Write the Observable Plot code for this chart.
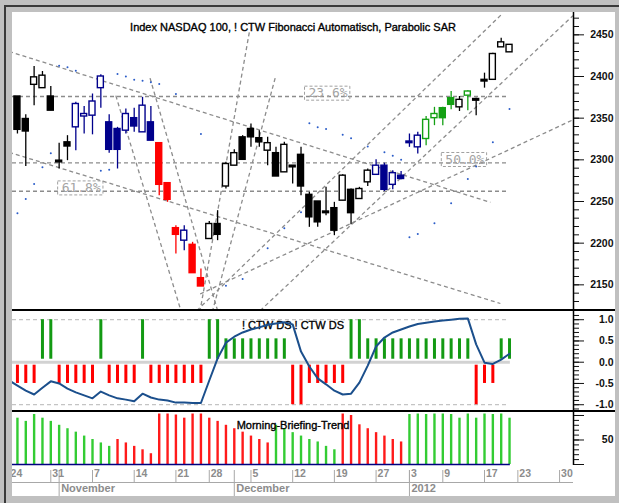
<!DOCTYPE html>
<html><head><meta charset="utf-8">
<script src="https://cdn.jsdelivr.net/npm/d3@7"></script>
<script src="https://cdn.jsdelivr.net/npm/@observablehq/plot@0.6"></script>
<style>
body{margin:0;background:#c0c0c0}
#wrap{position:relative;width:619px;height:503px;background:#c0c0c0;overflow:hidden;font-family:"Liberation Sans",Arial,sans-serif}
.abs{position:absolute}
#wrap svg{display:block;overflow:hidden}
</style></head><body>
<div id="wrap">
 <div class="abs" style="left:4px;top:5px;width:615px;height:498px;border-top:2px solid #3a3a3a;border-left:2px solid #3a3a3a;box-sizing:border-box"></div>
 <div class="abs" style="left:12px;top:12px;width:603px;height:484px;background:#fff"></div>
 <div id="p1" class="abs" style="left:12px;top:12px"></div>
 <div id="p2" class="abs" style="left:12px;top:311px"></div>
 <div id="p3" class="abs" style="left:12px;top:412px"></div>
 <div class="abs" style="left:12px;top:309px;width:603px;height:2px;background:#000"></div>
 <div class="abs" style="left:12px;top:410px;width:603px;height:2px;background:#000"></div>
 <div class="abs" style="left:12px;top:482px;width:561px;height:1px;background:#a8a8a8"></div>
</div>
<script>
// ---------- data ----------
const title1 = "Index NASDAQ 100, ! CTW Fibonacci Automatisch, Parabolic SAR";
const title2 = "! CTW DS ! CTW DS";
const title3 = "Morning-Briefing-Trend";

// trading-day index 1..60 (Oct 25 2011 .. Jan 20 2012)
const openP  = [2376,2349,2390,2386,2376,2299,2321,2339,2352,2353,2386,2345,2337,2335,2350,2333,2345,2320,2272,2218,2203,2198,2158,2205,2223,2268,2293,2327,2337,2326,2311,2308,2285,2293,2306,2258,2250,2238,2242,2251,2264,2253,2273,2282,2293,2270,2281,2322,2315,2325,2350,2362,2374,2363,2377,2373,2396,2396,2435,2429];
const highP  = [2376,2354,2412,2406,2388,2320,2329,2369,2364,2379,2402,2354,2339,2361,2362,2375,2364,2320,2272,2221,2221,2201,2169,2226,2239,2297,2312,2329,2343,2335,2327,2315,2321,2293,2315,2261,2250,2267,2249,2282,2265,2267,2289,2300,2296,2287,2286,2331,2333,2352,2363,2363,2382,2376,2383,2374,2404,2428,2446,2438];
const lowP   = [2331,2292,2365,2386,2359,2289,2299,2311,2331,2330,2362,2308,2289,2331,2333,2333,2323,2257,2249,2187,2191,2164,2148,2205,2203,2265,2293,2300,2315,2315,2293,2280,2285,2271,2257,2219,2219,2233,2209,2251,2222,2253,2268,2282,2262,2264,2276,2315,2307,2317,2341,2341,2360,2358,2359,2353,2386,2396,2435,2429];
const closeP = [2336,2334,2399,2401,2359,2297,2316,2367,2355,2370,2400,2312,2312,2355,2340,2365,2323,2270,2252,2210,2215,2164,2148,2223,2210,2295,2308,2300,2327,2321,2320,2280,2318,2291,2268,2231,2225,2236,2215,2281,2236,2265,2287,2293,2264,2284,2277,2320,2329,2348,2355,2350,2366,2372,2382,2371,2394,2427,2441,2438];
const candleTrend = "kkkkkkkbbbbbbbbbbrrrbrrkkkkkkkkkkkkkkkkkkkkbbbbbbggggkgkkkkk";
const sarP = [2236,2253,2271,2291,2308,2413,2411,2407,null,null,2287,2288,2403,2400,2396,2395,2393,2391,null,2379,null,null,2331,null,null,2149,null,2157,null,null,2194,null,2218,null,2237,2344,2339,2337,null,2330,2326,null,2316,null,2309,2305,2300,2207,2211,null,2224,null,2248,null,2277,2292,null,2321,null,2361];

// Fibonacci retracement levels
const fibLabels = ["23.6%", "50.0%", "61.8%"];
const fibLevels = [2376, 2296.4, 2262.3];
const fibLabelAt = [35.9, 52.3, 6.3];
const fibEnd = 59.8;

// fan / channel lines (index, price)
const lineX1 = [0, 0, 28.8, 31.9, 16.9, 12.8, 22.9, 22.5, 30.1];
const lineY1 = [2430, 2309, 2453, 2398, 2398, 2377, 2139, 2119, 2119];
const lineX2 = [57.7, 58.9, 22.9, 24.4, 25.0, 20.6, 67.6, 59.2, 67.6];
const lineY2 = [2249, 2127.6, 2119, 2119, 2119, 2119, 2348, 2476, 2473];

// ! CTW DS histogram (1..60) and line (0..60)
const dsBar = [-0.5,-0.5,-0.5,1,1,-0.5,-0.5,-0.5,-0.5,-0.5,1,-0.5,-0.5,-0.5,-0.5,1,-0.5,-0.5,-0.5,-0.5,-0.5,-0.5,-0.5,1,1,0.55,0.55,0.55,0.55,0.55,0.55,0.55,0.55,-1,-1,-0.5,-0.5,-0.5,-0.5,-0.5,1,1,0.55,0.55,0.55,0.55,0.55,0.55,0.55,0.55,0.55,0.55,0.55,0.55,0.55,-1,-0.5,-0.5,0.55,0.55];
const dsLine = [-0.43,-0.55,-0.67,-0.76,-0.6,-0.45,-0.5,-0.62,-0.71,-0.78,-0.85,-0.69,-0.78,-0.85,-0.88,-0.92,-0.74,-0.83,-0.88,-0.9,-0.95,-0.95,-0.96,-0.96,-0.43,0.09,0.46,0.6,0.7,0.77,0.82,0.88,0.91,0.94,0.89,0.25,-0.1,-0.38,-0.52,-0.67,-0.76,-0.74,-0.48,-0.08,0.37,0.58,0.7,0.77,0.84,0.9,0.93,0.96,0.98,1.0,1.02,1.03,0.42,-0.01,-0.04,0.06,0.2];

// Morning-Briefing-Trend (1..60)
const trendVal = [94.5,88,102,94.5,88,80,73,66,58,51,44,37,51,44,37,30,22,103,103,101,94.5,103,103,94.5,88,80,73,66,58,51,44,80,73,65,58,51,46,37,30,103,100,81,73,65,58,51,46,102,103,102,103,103,102,94.5,103,94.5,103,102,103,94.5];
const trendDir = "gggggggggggg" + "rrrrrrrrrrrrrrrrrrr" + "gggggggg" + "rrrrrrrr" + "ggggggggggggg";

// x axis
const dateTickIdx = [0,5,10,15,20,24,29,34,39,44,48,52,57,61,66];
const dateTickLab = ["24","31","7","14","21","28","5","12","19","27","3","9","17","23","30"];
const monthIdx = [6,27,48];
const monthLab = ["November","December","2012"];

// ---------- build ----------
const colors = {k:"#000000", b:"#00008c", r:"#ff0000", g:"#14a014"};
const xDomain = [0.408, 67.67];
const W = 603, MR = 42;
const font = "'Liberation Sans', Arial, sans-serif";
const baseStyle = {fontFamily: font, fontSize: "11px", background: "transparent", overflow: "hidden"};
const titleStyle = {fontSize: 11, fill: "#000", stroke: "#000", strokeWidth: 0.35};

const candles = openP.map((o, k) => ({i: k + 1, o, h: highP[k], l: lowP[k], c: closeP[k], col: colors[candleTrend[k]]}));
const sar = sarP.map((v, k) => ({i: k + 1, v})).filter(d => d.v != null);
const fibs = fibLabels.map((label, k) => ({label, v: fibLevels[k], li: fibLabelAt[k]}));
const diag = lineX1.map((x1, k) => ({x1, y1: lineY1[k], x2: lineX2[k], y2: lineY2[k]}));
const ds = dsBar.map((v, k) => ({i: k + 1, v}));
const dsl = dsLine.map((v, k) => ({i: k, v}));
const trend = trendVal.map((v, k) => ({i: k + 1, v, up: trendDir[k] === "g"}));
const dateTicks = dateTickIdx.map((i, k) => ({i, t: dateTickLab[k]}));
const months = monthIdx.map((i, k) => ({i, t: monthLab[k]}));

const axisCommon = {anchor: "right", label: null, color: "#111"};

const plotTop = Plot.plot({
  width: W, height: 297, marginLeft: 0, marginRight: MR, marginTop: 0, marginBottom: 0,
  style: baseStyle,
  x: {domain: xDomain, axis: null},
  y: {domain: [2120.4, 2476.8]},
  color: {type: "identity"},
  marks: [
    Plot.text([title1], {text: d => d, frameAnchor: "top", dy: 10.5, ...titleStyle}),
    Plot.ruleY(fibs, {y: "v", x1: 0.408, x2: fibEnd, stroke: "#8c8c8c", strokeWidth: 1.3, strokeDasharray: "4,3", clip: true}),
    Plot.link(diag, {x1: "x1", y1: "y1", x2: "x2", y2: "y2", stroke: "#8c8c8c", strokeWidth: 1.3, strokeDasharray: "4,3", clip: true}),
    Plot.text(fibs, {x: "li", y: "v", text: "label", textAnchor: "start", dy: -3.5, fontFamily: "'DejaVu Sans Mono', monospace", fontSize: 13, fill: "#a4a4a4"}),
    Plot.dot(sar, {x: "i", y: "v", r: 1, fill: "#2a5cc8", stroke: null}),
    Plot.ruleX(candles, {x: "i", y1: "l", y2: "h", stroke: "col", strokeWidth: 1.3, clip: true}),
    Plot.rect(candles, {x1: d => d.i - 0.36, x2: d => d.i + 0.36, y1: "o", y2: "c", fill: d => d.c > d.o ? "#ffffff" : d.col, stroke: "col", strokeWidth: 1.4, clip: true}),
    Plot.ruleX([xDomain[1]], {stroke: "#000", strokeWidth: 1.5}),
    Plot.axisY({...axisCommon, ticks: d3.range(2120, 2480, 10), tickSize: 5, tickFormat: () => ""}),
    Plot.axisY({...axisCommon, ticks: d3.range(2150, 2451, 50), tickSize: 10, tickPadding: 30, textAnchor: "end", tickFormat: d => String(d), fontSize: 10.5, fontWeight: "bold"})
  ]
});

const plotMid = Plot.plot({
  width: W, height: 99, marginLeft: 0, marginRight: MR, marginTop: 0, marginBottom: 0,
  style: baseStyle,
  x: {domain: xDomain, axis: null},
  y: {domain: [-1.136, 1.193]},
  color: {type: "identity"},
  marks: [
    Plot.ruleY([1, -1], {x1: 0.408, x2: fibEnd, stroke: "#c4c4c4", strokeWidth: 1.3, strokeDasharray: "4,3"}),
    Plot.ruleY([0], {x1: 0.408, x2: 60.1, stroke: "#d2d2d2", strokeWidth: 3}),
    Plot.text([title2], {text: d => d, frameAnchor: "top", dy: 10, ...titleStyle}),
    Plot.ruleX(ds, {x: "i", y1: d => d.v > 0 ? 0.07 : -0.07, y2: "v", stroke: d => d.v > 0 ? "#139a13" : "#ff0000", strokeWidth: 3}),
    Plot.line(dsl, {x: "i", y: "v", stroke: "#1b4f8c", strokeWidth: 2, clip: true}),
    Plot.ruleX([xDomain[1]], {stroke: "#000", strokeWidth: 1.5}),
    Plot.axisY({...axisCommon, ticks: d3.range(-11, 12).map(k => k / 10), tickSize: 5, tickFormat: () => ""}),
    Plot.axisY({...axisCommon, ticks: [-1, -0.5, 0, 0.5, 1], tickSize: 10, tickPadding: 30, textAnchor: "end", tickFormat: d => d.toFixed(1), fontSize: 10.5, fontWeight: "bold"})
  ]
});

const plotBot = Plot.plot({
  width: W, height: 84, marginLeft: 0, marginRight: MR, marginTop: 0, marginBottom: 31,
  style: baseStyle,
  x: {domain: xDomain},
  y: {domain: [-2.04, 106.1]},
  color: {type: "identity"},
  marks: [
    Plot.ruleX(trend, {x: "i", y1: 0, y2: "v", stroke: d => d.up ? "#33cc33" : "#ff1a1a", strokeWidth: 2.4}),
    Plot.ruleY([0], {x1: 0.408, x2: 60.1, stroke: "#000080", strokeWidth: 1.5}),
    Plot.text([title3], {text: d => d, frameAnchor: "top", dy: 9, ...titleStyle}),
    Plot.ruleX([xDomain[1]], {stroke: "#000", strokeWidth: 1.5}),
    Plot.axisY({...axisCommon, ticks: d3.range(0, 110, 10), tickSize: 5, tickFormat: () => ""}),
    Plot.axisY({...axisCommon, ticks: [0, 50, 100], tickSize: 10, tickPadding: 30, textAnchor: "end", tickFormat: d => d === 50 ? "50" : "", fontSize: 10.5, fontWeight: "bold"}),
    Plot.axisX(dateTickIdx, {tickSize: 12, dy: 5, tickFormat: () => "", color: "#a8a8a8", label: null}),
    Plot.axisX(monthIdx, {tickSize: 26, dy: 5, tickFormat: () => "", color: "#a8a8a8", label: null}),
    Plot.text(dateTicks, {x: "i", text: "t", frameAnchor: "bottom", dy: 11.5, dx: 1.5, textAnchor: "start", fill: "#8c8c8c", fontSize: 10.5, fontWeight: "bold"}),
    Plot.text(months, {x: "i", text: "t", frameAnchor: "bottom", dy: 26, dx: 2, textAnchor: "start", fill: "#8c8c8c", fontSize: 11, fontWeight: "bold"})
  ]
});

document.getElementById("p1").appendChild(plotTop);
document.getElementById("p2").appendChild(plotMid);
document.getElementById("p3").appendChild(plotBot);

// dashed boxes around the Fibonacci labels
plotTop.querySelectorAll("text").forEach(t => {
  if (!/%$/.test(t.textContent)) return;
  const b = t.getBBox();
  const r = document.createElementNS("http://www.w3.org/2000/svg", "rect");
  r.setAttribute("x", b.x - 4); r.setAttribute("y", b.y + 1);
  r.setAttribute("width", b.width + 6); r.setAttribute("height", b.height - 1);
  r.setAttribute("fill", "none"); r.setAttribute("stroke", "#a0a0a0");
  r.setAttribute("stroke-dasharray", "3,2"); r.setAttribute("stroke-width", "1");
  if (t.getAttribute("transform")) r.setAttribute("transform", t.getAttribute("transform"));
  t.parentNode.insertBefore(r, t);
});
</script>
</body></html>
